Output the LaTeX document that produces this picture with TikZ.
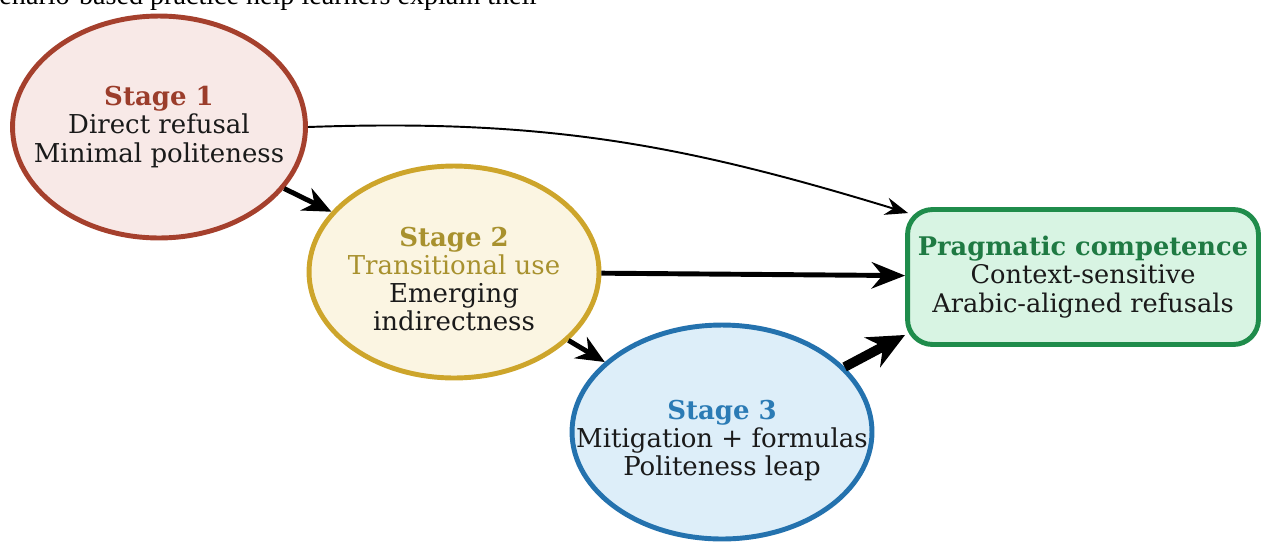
\documentclass[tikz,border=0pt]{standalone}
\usepackage{fontspec}
\setmainfont{DejaVu Serif}
\newfontfamily\introfont{Liberation Serif}
\usetikzlibrary{shapes.geometric, arrows.meta}

\definecolor{oneline}{HTML}{A5402D}
\definecolor{onefill}{HTML}{F8E9E7}
\definecolor{onetext}{HTML}{9B3D2B}
\definecolor{twoline}{HTML}{CDA52B}
\definecolor{twofill}{HTML}{FBF5E2}
\definecolor{twotext}{HTML}{A8912E}
\definecolor{threeline}{HTML}{2472AE}
\definecolor{threefill}{HTML}{DDEEF9}
\definecolor{threetext}{HTML}{2B7BB5}
\definecolor{goalline}{HTML}{1F8C4B}
\definecolor{goalfill}{HTML}{D8F4E3}
\definecolor{goaltext}{HTML}{1F7A43}
\definecolor{bodytext}{HTML}{1A1A1A}

\begin{document}
\begin{tikzpicture}[x=0.02cm, y=-0.02cm,
    stage/.style={ellipse, draw, line width=2.8pt, inner sep=0pt},
    goal/.style={rectangle, rounded corners=0.5cm, draw=goalline, fill=goalfill,
        line width=2.8pt, align=center, text=bodytext,
        minimum width=7.02cm, minimum height=2.7cm, inner sep=2pt,
        font=\fontsize{14.6}{16}\selectfont},
    words/.style={align=center, text=bodytext, font=\fontsize{14.8}{16}\selectfont},
    link/.style={-{Stealth[length=16pt, width=14pt]}, line width=2.8pt}]

    \clip (0,0) rectangle (1263,545);

    % Cut-off line above the figure
    \node[anchor=base east, font=\introfont\fontsize{16}{18}\selectfont] (intro) at (545,4)
        {scenario-based practice help learners explain their};

    % Draw nodes
    \node[stage, draw=oneline, fill=onefill, minimum width=5.86cm, minimum height=4.44cm] (s1) at (159,127) {};
    \node[stage, draw=twoline, fill=twofill, minimum width=5.8cm, minimum height=4.24cm] (s2) at (454,272) {};
    \node[stage, draw=threeline, fill=threefill, minimum width=6.0cm, minimum height=4.28cm] (s3) at (722,432) {};
    \node[goal] (box) at (1083,277)
        {\textcolor{goaltext}{\bfseries Pragmatic competence}\\Context-sensitive\\Arabic-aligned refusals};

    % Labels
    \node[words] (s1t) at (s1) {\textcolor{onetext}{\bfseries Stage 1}\\Direct refusal\\Minimal politeness};
    \node[words] (s2t) at ([yshift=-4]s2) {\textcolor{twotext}{\bfseries Stage 2}\\\textcolor{twotext}{Transitional use}\\Emerging\\indirectness};
    \node[words] (s3t) at ([yshift=-5]s3) {\textcolor{threetext}{\bfseries Stage 3}\\Mitigation + formulas\\Politeness leap};

    % Draw connections
    \coordinate (toptip) at ([shift={(3,6)}]box.north west);
    \coordinate (lowtip) at ([shift={(0,-12)}]box.south west);
    \draw[-{Stealth[length=13pt, width=10pt]}, line width=1.1pt] (s1.east) to[out=2, in=163] (toptip);
    \draw[link] (s1) -- (s2);
    \draw[link, -{Stealth[length=19pt, width=15pt]}] (s2) -- (box);
    \draw[link] (s2) -- (s3);
    \draw[link, line width=5.5pt, -{Stealth[length=21pt, width=19pt]}] (s3) -- (lowtip);
\end{tikzpicture}
\end{document}
